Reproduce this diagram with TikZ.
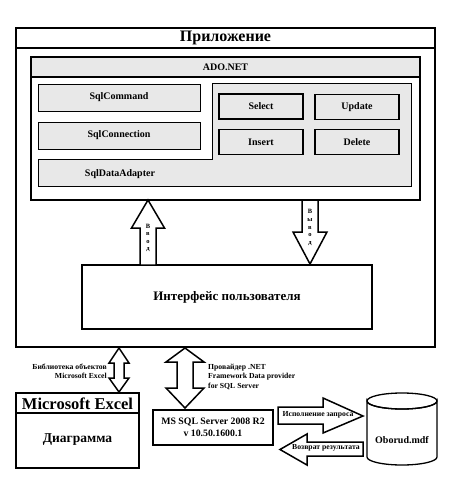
\documentclass[tikz,border=0pt]{standalone}
\usepackage{fontspec}
\setmainfont{Liberation Serif}
\definecolor{adogray}{HTML}{E8E8E8}

\begin{document}
\begin{tikzpicture}[x=1pt,y=-1pt,line join=miter,font=\bfseries,
    box/.style={draw,inner sep=0pt,line width=1.3pt},
    inbox/.style={draw,fill=adogray,inner sep=0pt,line width=0.9pt,minimum width=162pt,minimum height=27pt,font=\bfseries\fontsize{10}{12}\selectfont},
    opbox/.style={draw,fill=adogray,inner sep=0pt,line width=1.8pt,minimum width=84pt,minimum height=25pt,font=\bfseries\fontsize{10}{12}\selectfont},
    blockarrow/.style={draw,fill=white,line width=1.5pt},
    small/.style={inner sep=0pt,font=\bfseries\fontsize{7.7}{9.5}\selectfont},
    tiny/.style={inner sep=0pt,align=center,font=\bfseries\fontsize{6.5}{7.6}\selectfont}]
    \useasboundingbox (0,0) rectangle (449,477);

    % application frame
    \node[box,minimum width=419pt,minimum height=319pt] (app) at (225.5,187.5) {};
    \draw[line width=1.3pt] (16,48) -- (435,48);
    \node[font=\bfseries\fontsize{16}{18}\selectfont] (apptitle) at (225.5,38) {Приложение};

    % ADO.NET
    \fill[adogray] (31,57) rectangle (420,77);
    \node[box,line width=2.6pt,minimum width=389pt,minimum height=143pt] (ado) at (225.5,128.5) {};
    \draw[line width=2pt] (31,77) -- (420,77);
    \node[font=\bfseries\fontsize{10}{12}\selectfont] (adotitle) at (225.5,67) {ADO.NET};

    \filldraw[fill=adogray,line width=0.9pt] (38,159) -- (212,159) -- (212,83) -- (411,83) -- (411,186.5) -- (38,186.5) -- cycle;
    \node[font=\bfseries\fontsize{10}{12}\selectfont] (adapter) at (120,174) {SqlDataAdapter};
    \node[inbox] (cmd) at (119,97.5) {SqlCommand};
    \node[inbox] (conn) at (119,135.5) {SqlConnection};
    \node[opbox] (sel) at (261,106.5) {Select};
    \node[opbox] (upd) at (357,107) {Update};
    \node[opbox] (ins) at (261,142) {Insert};
    \node[opbox] (del) at (357,142) {Delete};

    % user interface
    \node[box,minimum width=290pt,minimum height=64pt,font=\bfseries\fontsize{13}{15}\selectfont] (ui) at (227,297) {Интерфейс пользователя};

    % input / output
    \draw[blockarrow] (148,200) -- (164.5,228) -- (156,228) -- (156,265) -- (140,265) -- (140,228) -- (131.5,228) -- cycle;
    \node[tiny] (inlbl) at (148,238) {В\\в\\о\\д};
    \draw[blockarrow] (302,200) -- (318,200) -- (318,232) -- (327,232) -- (310,264) -- (293,232) -- (302,232) -- cycle;
    \node[tiny] (outlbl) at (310,227.5) {В\\ы\\в\\о\\д};

    % Excel
    \node[box,minimum width=123pt,minimum height=75pt] (excel) at (77.5,430.5) {};
    \draw[line width=1.3pt] (16,413) -- (139,413);
    \node[font=\bfseries\fontsize{16.5}{18}\selectfont] (exceltitle) at (77.5,403.5) {Microsoft Excel};
    \node[font=\bfseries\fontsize{13.5}{15}\selectfont] (chart) at (77.5,440) {Диаграмма};
    \draw[blockarrow] (119,348) -- (129,363) -- (124,363) -- (124,378) -- (129,378) -- (119,392) -- (109,378) -- (114,378) -- (114,363) -- (109,363) -- cycle;
    \node[small,anchor=east,align=right] (exlib) at (107,371.5) {Библиотека объектов\\Microsoft Excel};

    % SQL Server
    \node[box,minimum width=120pt,minimum height=35pt,align=center,font=\bfseries\fontsize{9.8}{11.5}\selectfont] (sql) at (213,427.5) {MS SQL Server 2008 R2\\v 10.50.1600.1};
    \draw[blockarrow] (185,348) -- (204,362) -- (193,362) -- (193,388) -- (204,388) -- (185,408) -- (166,388) -- (177,388) -- (177,362) -- (166,362) -- cycle;
    \node[small,anchor=west,align=left] (prov) at (208,376.5) {Провайдер .NET\\Framework Data provider\\for SQL Server};

    % database
    \filldraw[fill=white,line width=1.3pt] (367,401) -- (367,457) arc (180:0:35 and 8) -- (437,401) arc (0:180:35 and 8) -- cycle;
    \draw[line width=1.3pt] (402,401) ellipse (35 and 8);
    \node[font=\bfseries\fontsize{10}{12}\selectfont] (db) at (402,440) {Oborud.mdf};

    \draw[blockarrow] (278,407) -- (323,407) -- (323,398) -- (363,416) -- (323,433) -- (323,424) -- (278,424) -- cycle;
    \node[small] (query) at (318,415) {Исполнение запроса};
    \draw[blockarrow] (280,449.5) -- (307,434) -- (307,442) -- (363,442) -- (363,456) -- (307,456) -- (307,465) -- cycle;
    \node[small] (result) at (326,448) {Возврат результата};
\end{tikzpicture}
\end{document}
